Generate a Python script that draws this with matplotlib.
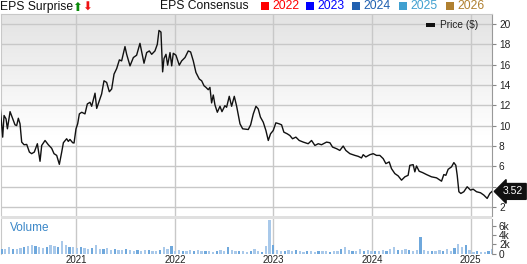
import numpy as np
import matplotlib
matplotlib.use("Agg")
import matplotlib.pyplot as plt
from matplotlib.patches import Rectangle
from matplotlib.colors import LinearSegmentedColormap
import matplotlib.transforms as mtransforms

plt.rcParams['font.family'] = ['Liberation Sans', 'DejaVu Sans']

# ---------------- data ----------------
price_t = [
    2020.226, 2020.253, 2020.267, 2020.287, 2020.301, 2020.328, 2020.355, 2020.378, 2020.395, 2020.412,
    2020.429, 2020.446, 2020.470, 2020.497, 2020.524, 2020.547, 2020.574, 2020.605, 2020.632, 2020.649,
    2020.683, 2020.716, 2020.750, 2020.774, 2020.801, 2020.828, 2020.852, 2020.869, 2020.902, 2020.919,
    2020.936, 2020.963, 2020.977, 2020.997, 2021.014, 2021.031, 2021.055, 2021.088, 2021.112, 2021.139,
    2021.156, 2021.190, 2021.207, 2021.234, 2021.257, 2021.281, 2021.308, 2021.335, 2021.359, 2021.383,
    2021.410, 2021.437, 2021.460, 2021.494, 2021.511, 2021.545, 2021.579, 2021.612, 2021.646, 2021.687,
    2021.714, 2021.741, 2021.765, 2021.798, 2021.822, 2021.839, 2021.859, 2021.876, 2021.890, 2021.910,
    2021.927, 2021.951, 2021.968, 2021.984, 2022.011, 2022.045, 2022.069, 2022.103, 2022.136, 2022.160,
    2022.187, 2022.214, 2022.248, 2022.272, 2022.296, 2022.316, 2022.339, 2022.356, 2022.373, 2022.390,
    2022.407, 2022.431, 2022.458, 2022.478, 2022.508, 2022.525, 2022.552, 2022.576, 2022.603, 2022.627,
    2022.661, 2022.688, 2022.745, 2022.769, 2022.796, 2022.823, 2022.846, 2022.868, 2022.897, 2022.924,
    2022.948, 2022.971, 2022.998, 2023.025, 2023.059, 2023.083, 2023.106, 2023.140, 2023.167, 2023.194,
    2023.228, 2023.262, 2023.303, 2023.353, 2023.387, 2023.421, 2023.455, 2023.488, 2023.539, 2023.573,
    2023.600, 2023.641, 2023.674, 2023.708, 2023.735, 2023.776, 2023.827, 2023.860, 2023.894, 2023.911,
    2023.938, 2023.979, 2024.013, 2024.046, 2024.080, 2024.114, 2024.141, 2024.175, 2024.198, 2024.232,
    2024.266, 2024.300, 2024.334, 2024.367, 2024.384, 2024.418, 2024.435, 2024.452, 2024.479, 2024.513,
    2024.554, 2024.604, 2024.655, 2024.706, 2024.729, 2024.750, 2024.773, 2024.807, 2024.831, 2024.851,
    2024.865, 2024.882, 2024.902, 2024.932, 2024.966, 2025.000, 2025.027, 2025.061, 2025.101, 2025.135,
    2025.169, 2025.196, 2025.218,
]
price_v = [
    12.04, 8.87, 11.0, 10.67, 9.69, 11.38, 10.67, 10.08, 10.01, 10.73,
    10.18, 8.38, 8.12, 8.15, 7.40, 7.24, 7.40, 8.22, 6.49, 8.05,
    8.54, 8.12, 7.77, 7.24, 7.07, 6.19, 7.40, 8.32, 8.71, 8.45,
    8.64, 8.32, 8.29, 9.69, 10.18, 11.16, 11.32, 11.16, 12.14, 12.30,
    11.91, 13.2, 11.7, 12.46, 13.12, 14.42, 14.26, 13.34, 13.61, 15.08,
    15.63, 16.48, 16.38, 17.79, 17.03, 15.89, 16.71, 16.94, 18.11, 16.15,
    17.2, 17.36, 17.03, 17.36, 18.01, 19.38, 19.22, 15.3, 16.61, 17.03,
    15.96, 17.2, 15.89, 17.13, 16.94, 15.96, 16.38, 16.71, 17.36, 17.26,
    16.38, 15.24, 14.59, 14.42, 13.93, 13.77, 13.54, 13.77, 12.24, 13.02,
    12.04, 11.32, 11.91, 11.38, 11.97, 11.81, 12.89, 11.91, 12.89, 11.91,
    10.18, 9.69, 9.62, 10.08, 11.16, 11.91, 11.65, 10.85, 10.34, 9.52,
    8.54, 9.20, 9.52, 10.28, 10.18, 10.08, 9.36, 9.20, 9.03, 8.71,
    8.87, 8.54, 8.38, 8.22, 8.54, 8.05, 8.22, 8.12, 8.38, 8.32,
    7.89, 7.73, 7.56, 7.99, 7.56, 7.24, 7.07, 6.98, 6.82, 7.14,
    6.92, 7.14, 7.24, 7.07, 7.07, 6.75, 6.26, 6.43, 5.77, 5.28,
    5.05, 4.63, 4.96, 5.11, 6.09, 6.16, 5.45, 6.03, 5.51, 5.38,
    5.18, 4.96, 4.86, 4.53, 5.18, 5.11, 5.70, 5.94, 6.36, 6.09,
    5.11, 3.49, 3.32, 3.49, 3.98, 3.65, 3.74, 3.49, 3.39, 3.16,
    2.83, 3.32, 3.52,
]
last_price = 3.52

vol_start = 2020.23
vol_step = 0.0383
volume_k = [
    1.0, 0.9, 1.3, 0.9, 1.0, 1.2, 1.5, 1.7, 1.9, 1.6, 1.4, 1.2, 1.5, 1.9, 1.6, 1.3, 2.7, 1.9, 1.4, 1.3,
    1.2, 1.4, 1.1, 0.9, 1.2, 1.9, 1.0, 0.9, 1.2, 0.8, 0.9, 0.7, 0.8, 1.0, 0.7, 0.6, 0.7, 0.6, 0.8, 0.7,
    0.6, 0.6, 0.7, 1.3, 0.9, 1.6,
    0.5, 0.7, 0.6, 0.5, 0.7, 0.6, 0.8, 0.5, 0.6, 0.5, 0.4, 0.6, 0.7, 0.5, 1.3, 0.7, 0.5, 0.6, 0.5, 0.4,
    0.6, 0.9, 0.5, 0.4, 1.6, 7.1,
    1.8, 0.8, 0.6, 0.5, 0.7, 0.6, 0.8, 0.5, 0.4, 0.6, 0.5, 0.4, 0.5, 0.6, 0.5, 0.4, 0.5, 0.6, 1.0, 1.5,
    0.8, 0.6, 0.5, 0.9, 0.6, 0.7,
    0.5, 0.6, 0.5, 0.7, 0.6, 0.9, 1.3, 0.8, 0.7, 0.9, 0.8, 0.6, 0.8, 3.6, 0.7, 0.5, 0.6, 0.5, 0.7, 0.6,
    0.9, 0.5, 1.1, 2.1, 1.4, 1.9, 0.8,
    0.4, 0.5, 0.4, 0.3, 0.5, 0.9,
]

year_ticks = [2021, 2022, 2023, 2024, 2025]
year_labels = ["2021", "2022", "2023", "2024", "2025"]
price_ticks = [2, 4, 6, 8, 10, 12, 14, 16, 18, 20]
# the "4" label sits under the last-price tag in the reference
price_labels = ["2", "", "6", "8", "10", "12", "14", "16", "18", "20"]
vol_ticks = [0, 2, 4, 6]
vol_labels = ["0", "2k", "4k", "6k"]

consensus_years = ["2022", "2023", "2024", "2025", "2026"]
consensus_colors = ["#ff0000", "#0000ff", "#2060b0", "#40a0d0", "#b08030"]

# ---------------- figure ----------------
W, H = 527, 264
fig = plt.figure(figsize=(W / 100, H / 100), dpi=100)
fig.patch.set_facecolor("white")

def fx(px):
    return px / W

def fy(py):
    return 1 - py / H

left_px, right_px = 1, 492
ax = fig.add_axes([fx(left_px), fy(216), fx(right_px - left_px), fy(14) - fy(216)])
axv = fig.add_axes([fx(left_px), fy(254), fx(right_px - left_px), fy(219) - fy(254)])

xlim = (2020.236, 2025.218)
grid_c = "#c8c8c8"

# gradient background for price panel
grad = np.linspace(0, 1, 256).reshape(-1, 1)
grad = np.clip((grad - 0.40) / 0.60, 0, 1)
cmap = LinearSegmentedColormap.from_list("g", ["#ffffff", "#e3e3e3"])
ax.imshow(grad, extent=[0, 1, 0, 1], transform=ax.transAxes, origin="lower",
          aspect="auto", cmap=cmap, vmin=0, vmax=1, zorder=0)

ax.plot(price_t, price_v, color="#111111", lw=1.0, zorder=3)
ax.set_xlim(*xlim)
ax.set_ylim(1.1, 21.0)
ax.set_axisbelow(True)
ax.set_xticks(year_ticks)
ax.set_yticks(price_ticks)
ax.set_yticklabels(price_labels)
ax.grid(True, color=grid_c, lw=1.0)
ax.tick_params(axis="x", length=0, labelbottom=False)
ax.yaxis.tick_right()
ax.tick_params(axis="y", direction="out", length=3, width=0.8, color="#888888",
               labelsize=7.3, labelcolor="#222222", pad=2)
for s in ["top", "left"]:
    ax.spines[s].set_color(grid_c)
ax.spines["right"].set_color("#999999")
ax.spines["bottom"].set_visible(False)

# volume
vol_x = vol_start + vol_step * np.arange(len(volume_k))
bar_colors = ["#6fa8dc" if (i % 3 == 0) else "#a9c9ea" for i in range(len(volume_k))]
axv.bar(vol_x, volume_k, width=vol_step * 0.6, color=bar_colors, zorder=3, align="edge")
axv.set_xlim(*xlim)
axv.set_ylim(-0.1, 7.4)
axv.set_axisbelow(True)
axv.set_xticks(year_ticks)
axv.set_xticklabels(year_labels)
axv.set_yticks(vol_ticks)
axv.set_yticklabels(vol_labels)
axv.grid(True, axis="x", color=grid_c, lw=1.0)
axv.tick_params(axis="x", length=0, labelsize=7.0, labelcolor="#222222", pad=0.5)
axv.yaxis.tick_right()
axv.tick_params(axis="y", direction="out", length=3, width=0.8, color="#888888",
                labelsize=7.3, labelcolor="#222222", pad=2)
axv.spines["left"].set_color(grid_c)
axv.spines["right"].set_color("#999999")
axv.spines["top"].set_visible(False)
axv.spines["bottom"].set_visible(False)
axv.text(0.018, 0.74, "Volume", transform=axv.transAxes, fontsize=8.5,
         color="#3a87c8", va="center", ha="left")

# separator band between panels
fig.patches.append(Rectangle((fx(left_px), fy(219)), fx(right_px - left_px), fy(216) - fy(219),
                             transform=fig.transFigure, facecolor="#e0e0e0", edgecolor="none"))

# last price tag
trans = mtransforms.blended_transform_factory(fig.transFigure, ax.transData)
ax.text(fx(503), last_price, f"{last_price:.2f}", transform=trans, ha="left", va="center",
        fontsize=7.5, color="white", clip_on=False, zorder=10,
        bbox=dict(boxstyle="larrow,pad=0.28", fc="#111111", ec="#111111"))

# price legend
ax.add_patch(Rectangle((fx(426), fy(27)), fx(9), fy(23) - fy(27), transform=fig.transFigure,
                       facecolor="#111111", edgecolor="none", clip_on=False, zorder=5))
fig.text(fx(440), fy(25), "Price ($)", fontsize=7.3, color="#222222", va="center", ha="left")

# header
fig.text(fx(0), fy(7), "EPS Surprise", fontsize=8.7, color="#111111", va="center", ha="left")
fig.text(fx(72), fy(7.5), "\u2B06", fontsize=8.5, color="#0a8a0a", va="center", ha="left",
         family="DejaVu Sans")
fig.text(fx(82), fy(7.5), "\u2B07", fontsize=8.5, color="#ee1111", va="center", ha="left",
         family="DejaVu Sans")
fig.text(fx(160), fy(6), "EPS Consensus", fontsize=8.7, color="#111111", va="center", ha="left")
sq_x = [261, 306, 352, 399, 446]
for x0, yr, c in zip(sq_x, consensus_years, consensus_colors):
    fig.patches.append(Rectangle((fx(x0), fy(9.5)), fx(7.5), fy(2) - fy(9.5),
                                 transform=fig.transFigure, facecolor=c, edgecolor="none"))
    fig.text(fx(x0 + 11.5), fy(6), yr, fontsize=8.7, color=c, va="center", ha="left")

fig.savefig("out.png", dpi=100, facecolor="white")
